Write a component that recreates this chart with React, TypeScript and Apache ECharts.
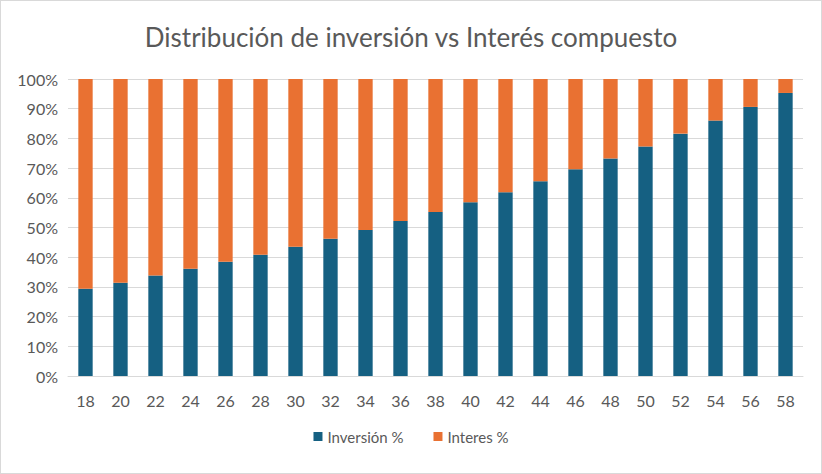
import React, { useEffect, useRef } from "react";
import * as echarts from "echarts";

const categories = ["18","20","22","24","26","28","30","32","34","36","38","40","42","44","46","48","50","52","54","56","58"];
const inversion = [29.4,31.4,33.8,36.1,38.5,40.8,43.5,46.2,49.2,52.2,55.2,58.5,61.9,65.6,69.6,73.2,77.3,81.6,86.0,90.6,95.3];
const interes = inversion.map((v) => +(100 - v).toFixed(1));

export default function App() {
  const ref = useRef<HTMLDivElement>(null);
  useEffect(() => {
    const chart = echarts.init(ref.current!, null, { renderer: "svg" });
    const font = "Lato, 'Liberation Sans', sans-serif";
    chart.setOption({
      animation: false,
      backgroundColor: "#fff",
      title: {
        text: "Distribución de inversión vs Interés compuesto",
        left: "center", top: 18,
        textStyle: { fontFamily: font, fontSize: 26, fontWeight: "normal", color: "#595959" },
      },
      legend: {
        bottom: 24, itemWidth: 9, itemHeight: 9, itemGap: 30, icon: "rect",
        textStyle: { fontFamily: font, fontSize: 15, color: "#595959" },
        data: ["Inversión %", "Interes %"],
      },
      grid: { left: 67, right: 18, top: 78, bottom: 97 },
      xAxis: {
        type: "category", data: categories,
        axisLine: { lineStyle: { color: "#d9d9d9" } },
        axisTick: { show: false },
        axisLabel: { fontFamily: font, fontSize: 16, color: "#595959", margin: 16 },
      },
      yAxis: {
        type: "value", min: 0, max: 100, interval: 10,
        axisLabel: { formatter: "{value}%", fontFamily: font, fontSize: 16, color: "#595959", margin: 10 },
        splitLine: { lineStyle: { color: "#d9d9d9" } },
      },
      series: [
        { name: "Inversión %", type: "bar", stack: "a", data: inversion, barWidth: "41%", itemStyle: { color: "#156082" } },
        { name: "Interes %", type: "bar", stack: "a", data: interes, barWidth: "41%", itemStyle: { color: "#e97132" } },
      ],
    });
    return () => chart.dispose();
  }, []);
  return <div ref={ref} style={{ position: "absolute", left: 0, top: 0, width: 822, height: 474, border: "1px solid #d9d9d9", boxSizing: "border-box" }} />;
}
